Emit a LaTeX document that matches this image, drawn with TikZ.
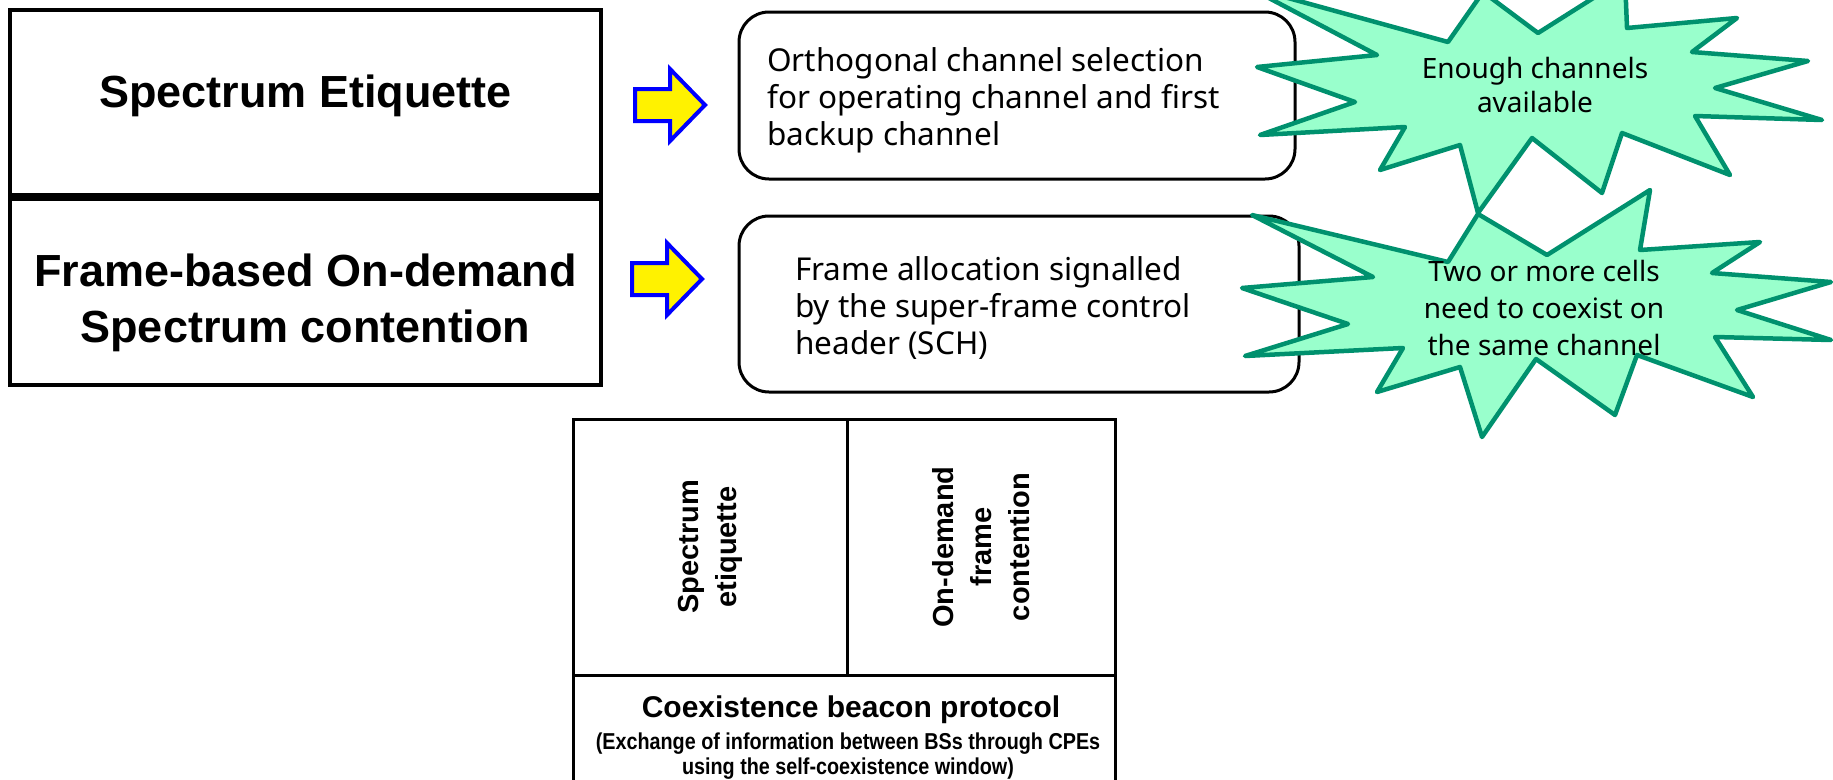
\documentclass[tikz,border=0pt]{standalone}
\usepackage{fontspec}
\setmainfont{Liberation Sans}
\newfontfamily\gothic{Noto Sans}
\usetikzlibrary{positioning}
\definecolor{burstfill}{RGB}{153,255,204}
\definecolor{burstline}{RGB}{0,145,110}
\tikzset{>=latex}

\begin{document}
\begin{tikzpicture}[x=1pt, y=-1pt,
    mainbox/.style={draw, line width=4pt, minimum width=591pt, inner sep=0pt},
    maintext/.style={inner sep=0pt, align=center, font=\fontsize{45}{56}\selectfont\bfseries},
    optbox/.style={draw, line width=3pt, rounded corners=30pt, inner sep=0pt},
    optext/.style={inner sep=0pt, align=left, anchor=west, font=\gothic\fontsize{31.5}{37}\selectfont},
    burst/.style={draw=burstline, fill=burstfill, line width=4.5pt, line join=round},
    bursttext/.style={inner sep=0pt, align=center, font=\gothic\fontsize{28}{34}\selectfont},
    blockarrow/.style={draw=blue, fill=yellow, line width=4pt, line join=miter},
    cell/.style={draw, line width=3pt, inner sep=0pt},
    celltext/.style={inner sep=0pt, align=center, font=\fontsize{29}{38}\selectfont\bfseries},
    notetext/.style={inner sep=0pt, align=center, xscale=0.86, font=\fontsize{23}{25}\selectfont\bfseries}]

    \useasboundingbox (0,0) rectangle (1833,779);

    % the two mechanisms
    \node[mainbox, minimum height=185pt] (etiquette) at (305.5,102.5) {};
    \node[mainbox, minimum height=186pt] (contention) at (305.5,292) {};
    \node[maintext, yshift=7pt] (etiquettetext) at (etiquette.center) {Spectrum Etiquette};
    \node[maintext, yshift=-11pt] (contentiontext) at (contention.center) {Frame-based On-demand\\Spectrum contention};

    \foreach \ax/\ay in {635/105, 632/279}
    {
        \draw[blockarrow, shift={(\ax,\ay)}] (0,-16) -- (35,-16) -- (35,-36) -- (70,0) -- (35,36) -- (35,16) -- (0,16) -- cycle;
    }

    \node[optbox, minimum width=556pt, minimum height=167pt] (selection) at (1017,95.5) {};
    \node[optbox, minimum width=560pt, minimum height=176pt] (allocation) at (1019,304) {};
    \node[optext] (selectiontext) at (767,100) {Orthogonal channel selection\\for operating channel and first\\backup channel};
    \node[optext] (allocationtext) at (795,308) {Frame allocation signalled\\by the super-frame control\\header (SCH)};

    % conditions
    \draw[burst] (1248,-13) -- (1448,42) -- (1483,-8) -- (1538,33) -- (1625,-22) -- (1627,28) -- (1737,18) -- (1692,52)
        -- (1808,61) -- (1715,88) -- (1822,120) -- (1695,116) -- (1730,175) -- (1622,133) -- (1602,193) -- (1532,138)
        -- (1478,213) -- (1460,145) -- (1380,170) -- (1405,127) -- (1260,135) -- (1355,102) -- (1257,67) -- (1377,55) -- cycle;
    \draw[burst] (1252,215) -- (1448,262) -- (1478,214) -- (1547,255) -- (1650,190) -- (1640,250) -- (1760,242) -- (1712,273)
        -- (1831,282) -- (1737,310) -- (1831,340) -- (1715,337) -- (1753,397) -- (1637,355) -- (1615,415) -- (1536,359)
        -- (1482,437) -- (1460,367) -- (1377,392) -- (1403,348) -- (1245,356) -- (1348,324) -- (1242,288) -- (1373,277) -- cycle;
    \node[bursttext] (enough) at (1535,85) {Enough channels\\available};
    \node[bursttext, font=\gothic\fontsize{28}{37}\selectfont] (coexist) at (1544,308) {Two or more cells\\need to coexist on\\the same channel};

    % protocol stack
    \node[cell, minimum width=274pt, minimum height=256pt] (etiquettecell) at (710,547) {};
    \node[cell, minimum width=268pt, minimum height=256pt] (contentioncell) at (981,547) {};
    \node[cell, minimum width=542pt, minimum height=115pt] (beaconcell) at (844,732.5) {};
    \node[celltext, rotate=90] (etiquettelabel) at (etiquettecell.center) {Spectrum\\etiquette};
    \node[celltext, rotate=90] (contentionlabel) at (contentioncell.center) {On-demand\\frame\\contention};
    \node[celltext, font=\fontsize{30}{38}\selectfont\bfseries] (beacontitle) at (851,710) {Coexistence beacon protocol};
    \node[notetext] (beaconnote) at (848,756) {(Exchange of information between BSs through CPEs\\using the self-coexistence window)};

\end{tikzpicture}
\end{document}
